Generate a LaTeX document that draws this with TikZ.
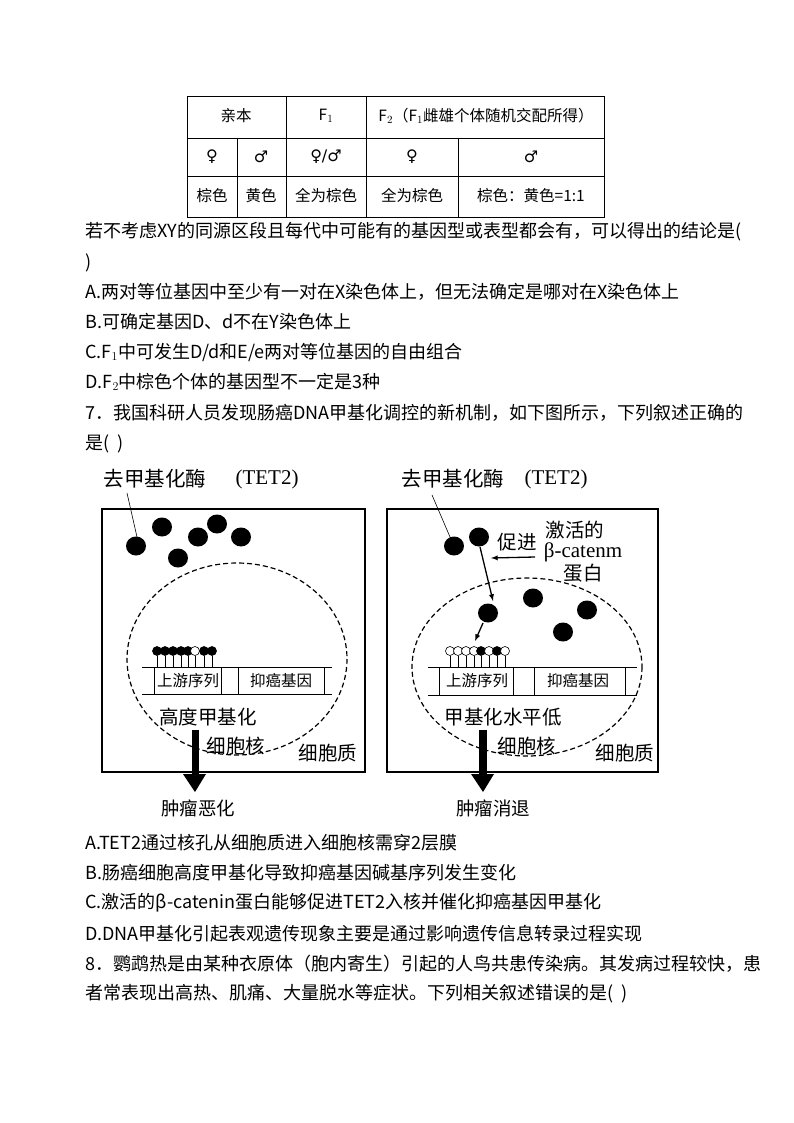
\documentclass[tikz,border=0pt]{standalone}
\usepackage{fontspec}
\setmainfont{Liberation Serif}
\newfontfamily\cjk{Noto Sans CJK SC}
\newfontfamily\dv{DejaVu Sans}
\begin{document}
\begin{tikzpicture}[x=1pt,y=-1pt,
  body/.style={anchor=west,inner sep=0pt,font=\fontsize{18}{20}\cjk},
  cell/.style={inner sep=0pt,font=\fontsize{15.5}{18}\cjk},
  lab/.style={inner sep=0pt,font=\fontsize{19.5}{21}\cjk},
  small/.style={inner sep=0pt,font=\fontsize{15.5}{16}\cjk},
  nuc/.style={dashed,dash pattern=on 5pt off 3pt,line width=1.2pt},
  thin/.style={line width=0.6pt}]
\useasboundingbox[fill=white] (0,0) rectangle (794,1123);
% table
\draw[thin] (187,96) rectangle (604,217);
\draw[thin] (187,138) -- (604,138) (187,176) -- (604,176);
\draw[thin] (286,96) -- (286,217) (366,96) -- (366,217);
\draw[thin] (237,138) -- (237,217) (458,138) -- (458,217);
\node[cell] (t1) at (236,116) {亲本};
\node[cell] (t2) at (326,116) {F$_1$};
\node[cell] (t3) at (486,116) {F$_2$（F$_1$雌雄个体随机交配所得）};
\node[cell,font=\fontsize{16}{18}\dv] (s1) at (212,157) {♀};
\node[cell,font=\fontsize{16}{18}\dv] (s2) at (261,157) {♂};
\node[cell,font=\fontsize{16}{18}\dv] (s3) at (326,157) {♀/♂};
\node[cell,font=\fontsize{16}{18}\dv] (s4) at (412,157) {♀};
\node[cell,font=\fontsize{16}{18}\dv] (s5) at (531,157) {♂};
\node[cell] (c1) at (212,196) {棕色};
\node[cell] (c2) at (261,196) {黄色};
\node[cell] (c3) at (326,196) {全为棕色};
\node[cell] (c4) at (412,196) {全为棕色};
\node[cell] (c5) at (531,196) {棕色：黄色=1:1};
% text
\node[body] (l1) at (85,232) {若不考虑XY的同源区段且每代中可能有的基因型或表型都会有，可以得出的结论是(};
\node[body] (l2) at (85,263) {)};
\node[body] (l3) at (85,292) {A.两对等位基因中至少有一对在X染色体上，但无法确定是哪对在X染色体上};
\node[body] (l4) at (85,322) {B.可确定基因D、d不在Y染色体上};
\node[body] (l5) at (85,352) {C.F$_1$中可发生D/d和E/e两对等位基因的自由组合};
\node[body] (l6) at (85,382) {D.F$_2$中棕色个体的基因型不一定是3种};
\node[body] (l7) at (85,413) {7．我国科研人员发现肠癌DNA甲基化调控的新机制，如下图所示，下列叙述正确的};
\node[body] (l8) at (85,444) {是(\ \ )};
% left panel
\draw[line width=1.3pt] (102,509) rectangle (365,772);
\node[lab,font=\fontsize{20.5}{22}\cjk] (lt) at (155,479) {去甲基化酶};
\node[inner sep=0pt,font=\fontsize{21}{22}\selectfont] (lt2) at (267,479) {(TET2)};
\draw[thin] (127,493) -- (137,537);
\foreach \x/\y in {136/546,162/527,178/558,198/537,217/524,241/537}
  \fill (\x,\y) ellipse [x radius=10,y radius=9.5];
\draw[nuc] (237,659) ellipse [x radius=110,y radius=96];
\draw[thin] (142,667) -- (332,667) (142,694) -- (332,694);
\draw[thin] (154,667) -- (154,694) (221,667) -- (221,694) (238,667) -- (238,694) (324,667) -- (324,694);
\node[small] (lu) at (188,681) {上游序列};
\node[small] (lg) at (281,681) {抑癌基因};
\foreach \x/\f in {157/black,165/black,173/black,181/black,188/black,195/white,204/black,212/black}{
  \draw[thin] (\x,656) -- (\x,667);
  \draw[thin,fill=\f] (\x,651) circle (4.5);}
\node[lab] (lm) at (208,717) {高度甲基化};
\node[lab] (ln) at (236,746) {细胞核};
\node[lab] (lc) at (328,753) {细胞质};
\fill (192,730) rectangle (199,774);
\fill (183,774) -- (206,774) -- (195,792) -- cycle;
\node[lab,font=\fontsize{18.5}{19}\cjk] (lr) at (198,808) {肿瘤恶化};
% right panel
\draw[line width=1.3pt] (387,509) rectangle (658,772);
\node[lab,font=\fontsize{20.5}{22}\cjk] (rt) at (453,479) {去甲基化酶};
\node[inner sep=0pt,font=\fontsize{21}{22}\selectfont] (rt2) at (556,479) {(TET2)};
\draw[thin] (432,495) -- (450,537);
\foreach \x/\y in {454/546,479/537,488/613,533/598,587/610,563/632}
  \fill (\x,\y) ellipse [x radius=10,y radius=9.5];
\draw[line width=1.3pt,-latex] (480,547) -- (493,601);
\draw[line width=1.3pt,-latex] (483,623) -- (475,641);
\node[lab] (rp) at (517,542) {促进};
\draw[line width=1.3pt,-latex] (535,557) -- (491,558);
\node[lab] (ra) at (575,530) {激活的};
\node[inner sep=0pt,font=\fontsize{21}{22}\selectfont] (rb) at (583,552) {β-catenm};
\node[lab] (rc) at (583,573) {蛋白};
\draw[nuc] (527,667) ellipse [x radius=115,y radius=89];
\draw[thin] (428,667) -- (637,667) (428,695) -- (637,695);
\draw[thin] (439,667) -- (439,695) (513,667) -- (513,695) (534,667) -- (534,695) (625,667) -- (625,695);
\node[small] (ru) at (477,681) {上游序列};
\node[small] (rg) at (578,681) {抑癌基因};
\foreach \x/\f in {450/white,458/white,466/white,474/white,481/black,489/white,497/black,505/white}{
  \draw[thin] (\x,656) -- (\x,667);
  \draw[thin,fill=\f] (\x,651) circle (4.5);}
\node[lab] (rm) at (503,717) {甲基化水平低};
\node[lab] (rn) at (527,746) {细胞核};
\node[lab] (rcy) at (625,753) {细胞质};
\fill (479,730) rectangle (487,774);
\fill (471,774) -- (494,774) -- (483,792) -- cycle;
\node[lab,font=\fontsize{18.5}{19}\cjk] (rr) at (493,808) {肿瘤消退};
% bottom text
\node[body] (b1) at (85,843) {A.TET2通过核孔从细胞质进入细胞核需穿2层膜};
\node[body] (b2) at (85,873) {B.肠癌细胞高度甲基化导致抑癌基因碱基序列发生变化};
\node[body] (b3) at (85,903) {C.激活的β-catenin蛋白能够促进TET2入核并催化抑癌基因甲基化};
\node[body] (b4) at (85,934) {D.DNA甲基化引起表观遗传现象主要是通过影响遗传信息转录过程实现};
\node[body] (b5) at (85,964) {8．鹦鹉热是由某种衣原体（胞内寄生）引起的人鸟共患传染病。其发病过程较快，患};
\node[body] (b6) at (85,994) {者常表现出高热、肌痛、大量脱水等症状。下列相关叙述错误的是(\ \ )};
\end{tikzpicture}
\end{document}
